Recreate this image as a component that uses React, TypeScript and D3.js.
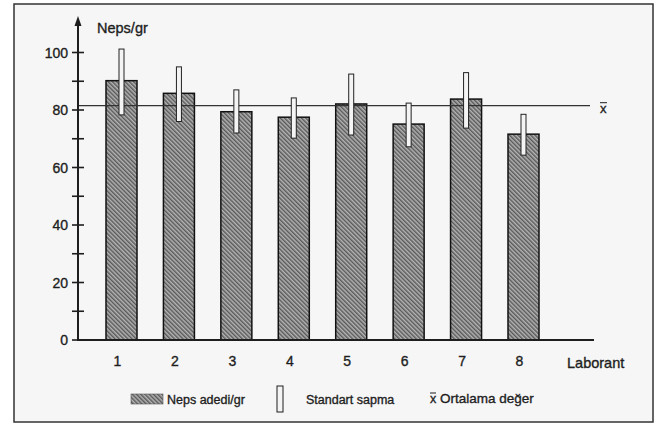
import React from "react";
import * as d3 from "d3";

const categories = ["1", "2", "3", "4", "5", "6", "7", "8"];
const nepsValues = [90.2, 85.8, 79.4, 77.5, 82.1, 75.1, 83.8, 71.6];
const sdHigh = [101.2, 95.0, 87.0, 84.2, 92.5, 82.4, 93.0, 78.5];
const sdLow = [78.3, 76.0, 72.0, 70.2, 71.3, 67.2, 73.7, 64.3];
const meanValue = 81.5;
const majorTicks = [0, 20, 40, 60, 80, 100];
const minorTicks = [10, 30, 50, 70, 90];
const yLabel = "Neps/gr";
const xLabel = "Laborant";
const legendLabels = ["Neps adedi/gr", "Standart sapma", "Ortalama değer"];

const W = 658;
const H = 424;
const FONT = "'Liberation Sans', Arial, Helvetica, sans-serif";
const INK = "#1e1e1e";
const txt = { fontFamily: FONT, fill: INK, stroke: INK, strokeWidth: 0.35 };

export default function App() {
  const x = d3.scalePoint<string>().domain(categories).range([121.5, 523.5]);
  const y = d3.scaleLinear().domain([0, 100]).range([340, 52.5]);
  const barW = 31;
  const errW = 5;
  const axisX = 78;

  return (
    <svg
      width={W}
      height={H}
      style={{ position: "absolute", left: 0, top: 0, background: "#ffffff" }}
    >
      <defs>
        <pattern
          id="hatch"
          patternUnits="userSpaceOnUse"
          width={3}
          height={3}
          patternTransform="rotate(-45)"
        >
          <rect width={3} height={3} fill="#b4b4b4" />
          <line x1={0.8} y1={0} x2={0.8} y2={3} stroke="#3a3a3a" strokeWidth={1.1} />
        </pattern>
      </defs>
      <rect x={14} y={4} width={639} height={418} fill="#f6f6f6" stroke="#333" strokeWidth={1.5} />

      {/* bars */}
      {categories.map((c, i) => (
        <rect
          key={"b" + c}
          x={(x(c) as number) - barW / 2}
          y={y(nepsValues[i])}
          width={barW}
          height={y(0) - y(nepsValues[i])}
          fill="url(#hatch)"
          stroke="#111"
          strokeWidth={1.5}
        />
      ))}

      {/* mean line */}
      <line x1={axisX} x2={590} y1={y(meanValue)} y2={y(meanValue)} stroke="#333" strokeWidth={1.2} />
      <text x={600} y={y(meanValue) + 7} fontSize={13} {...txt}>
        x
      </text>
      <line x1={600} x2={607} y1={y(meanValue) - 3} y2={y(meanValue) - 3} stroke={INK} strokeWidth={1} />

      {/* error bars */}
      {categories.map((c, i) => (
        <rect
          key={"e" + c}
          x={(x(c) as number) - errW / 2}
          y={y(sdHigh[i])}
          width={errW}
          height={y(sdLow[i]) - y(sdHigh[i])}
          fill="#f4f4f4"
          stroke="#222"
          strokeWidth={1}
        />
      ))}

      {/* axes */}
      <line x1={axisX} x2={axisX} y1={y(0) + 1} y2={20} stroke={INK} strokeWidth={2} />
      <path d={`M${axisX - 3.5},${26} L${axisX},${16} L${axisX + 3.5},${26} Z`} fill={INK} />
      <line x1={axisX - 1} x2={594} y1={y(0)} y2={y(0)} stroke={INK} strokeWidth={2} />

      {[...majorTicks, ...minorTicks].map((t) => (
        <line key={"t" + t} x1={axisX - 6} x2={axisX + 6} y1={y(t)} y2={y(t)} stroke={INK} strokeWidth={1.6} />
      ))}
      {majorTicks.map((t) => (
        <text key={"l" + t} x={68} y={y(t) + 5} textAnchor="end" fontSize={14} {...txt}>
          {t}
        </text>
      ))}
      <text x={97} y={33} fontSize={14.5} {...txt}>
        {yLabel}
      </text>

      {categories.map((c) => (
        <text
          key={"x" + c}
          x={(x(c) as number) - 4}
          y={366}
          textAnchor="middle"
          fontSize={14}
          {...txt}
        >
          {c}
        </text>
      ))}
      <text x={567} y={368} fontSize={14.5} {...txt}>
        {xLabel}
      </text>

      {/* legend */}
      <rect x={131} y={394} width={32} height={10} fill="url(#hatch)" stroke="#555" strokeWidth={0.6} />
      <text x={167} y={404} fontSize={12.5} {...txt}>
        {legendLabels[0]}
      </text>
      <rect x={277} y={386} width={6} height={26} fill="#f4f4f4" stroke={INK} strokeWidth={1} />
      <text x={306} y={404} fontSize={12.5} {...txt}>
        {legendLabels[1]}
      </text>
      <text x={430} y={403} fontSize={12.5} {...txt}>
        x
      </text>
      <line x1={430} x2={436} y1={393} y2={393} stroke={INK} strokeWidth={1} />
      <text x={440} y={403} fontSize={13.5} {...txt}>
        {legendLabels[2]}
      </text>
    </svg>
  );
}
